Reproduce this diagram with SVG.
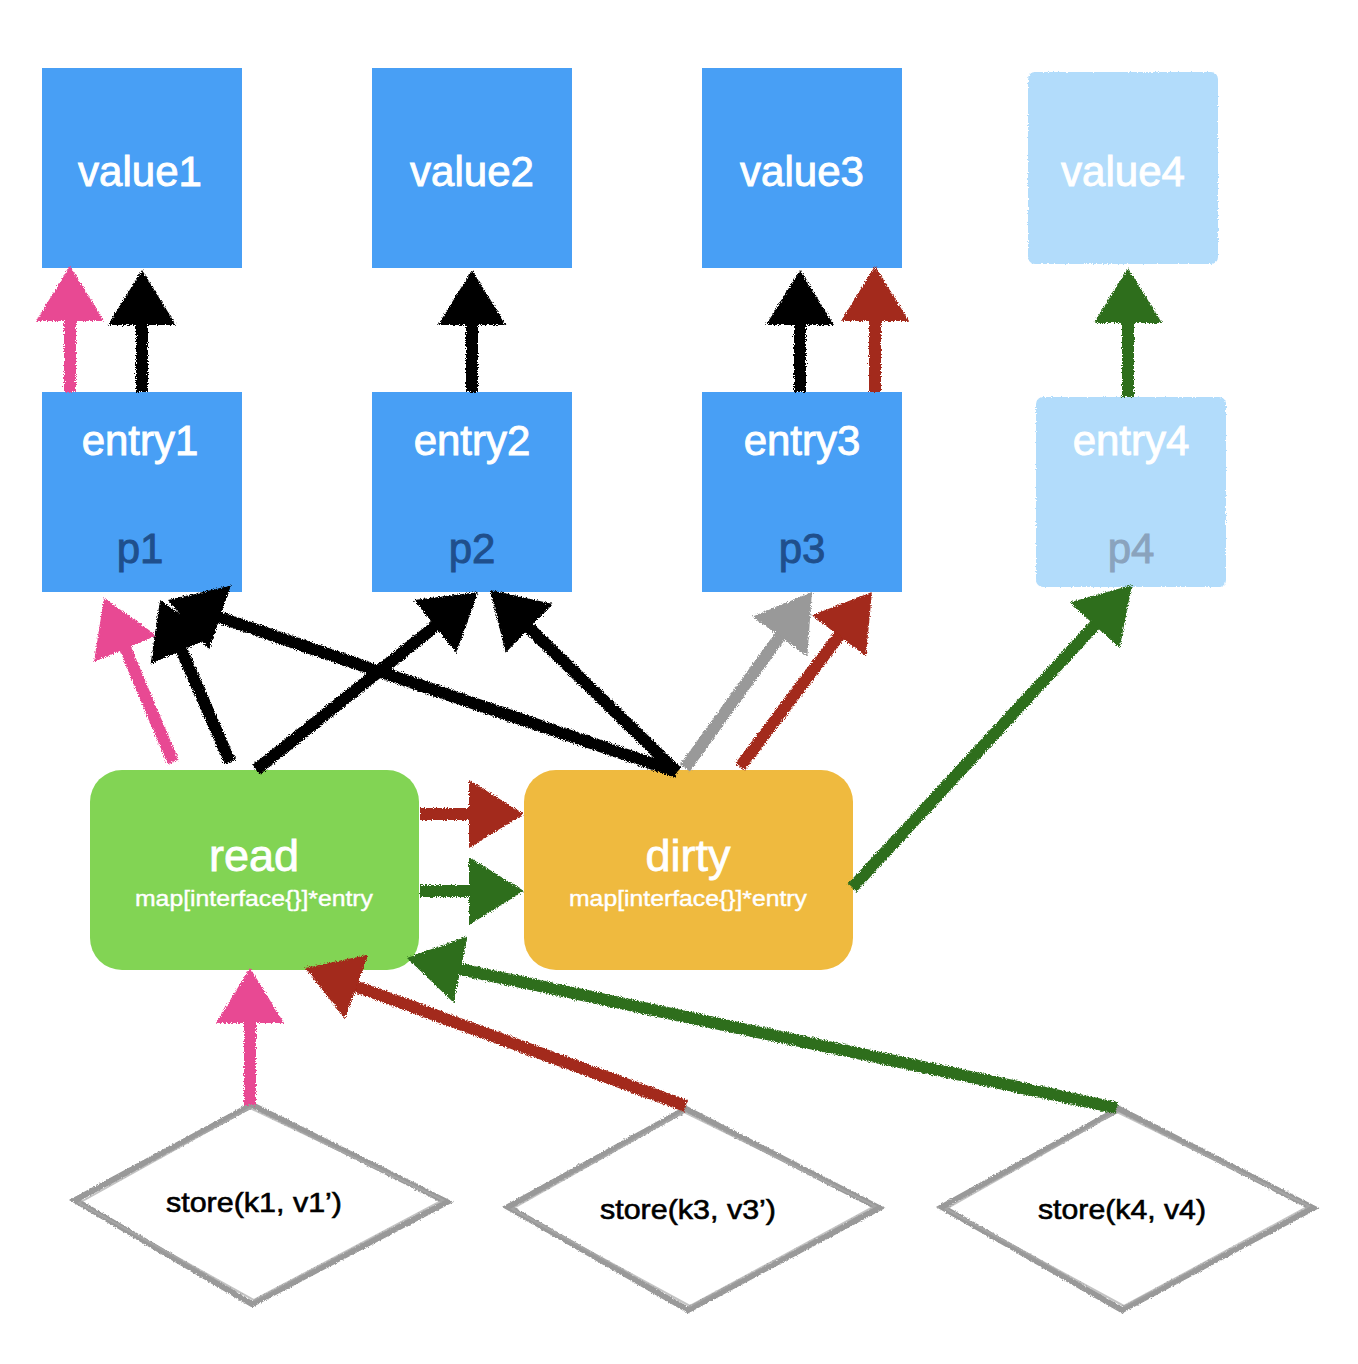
<svg xmlns="http://www.w3.org/2000/svg" width="1358" height="1364" viewBox="0 0 1358 1364">
<style>
.box{fill:#489ff5}
.pale{fill:#b2dcfb}
.lbl{font-family:"Liberation Sans",Arial,sans-serif;font-size:42px;fill:#fff;stroke:#fff;stroke-width:0.9;text-anchor:middle}
.ptr{font-family:"Liberation Sans",Arial,sans-serif;font-size:42px;fill:#1f4f8c;stroke:#1f4f8c;stroke-width:0.9;text-anchor:middle}
.big{font-family:"Liberation Sans",Arial,sans-serif;font-size:45px;fill:#fff;stroke:#fff;stroke-width:0.8;text-anchor:middle}
.sub{font-family:"Liberation Sans",Arial,sans-serif;font-size:22px;fill:#fff;stroke:#fff;stroke-width:0.4;text-anchor:middle}
.st{font-family:"Liberation Sans",Arial,sans-serif;font-size:28px;fill:#000;stroke:#000;stroke-width:0.6;text-anchor:middle}
.dia{fill:#fff;stroke:#999;stroke-width:6;stroke-linejoin:miter}
.dia2{fill:none;stroke:#aaa;stroke-width:2;opacity:.7}
.c{fill:none;stroke-width:12;stroke-linecap:butt}
.pk{stroke:#e84a93;marker-end:url(#mpk)}
.bk{stroke:#000;marker-end:url(#mbk)}
.rd{stroke:#a3291a;marker-end:url(#mrd)}
.gn{stroke:#2f6e1e;marker-end:url(#mgn)}
.gy{stroke:#999;marker-end:url(#mgy)}
</style>
<defs>
<filter id="crayon" filterUnits="userSpaceOnUse" x="0" y="0" width="1358" height="1364">
<feTurbulence type="fractalNoise" baseFrequency="0.9" numOctaves="2" seed="4" result="n"/>
<feDisplacementMap in="SourceGraphic" in2="n" scale="5" xChannelSelector="R" yChannelSelector="G"/>
</filter>
<filter id="rough" x="-5%" y="-5%" width="110%" height="110%">
<feTurbulence type="fractalNoise" baseFrequency="0.6" numOctaves="2" seed="2" result="n"/>
<feDisplacementMap in="SourceGraphic" in2="n" scale="3" xChannelSelector="R" yChannelSelector="G"/>
</filter>
<marker id="mpk" viewBox="0 0 55 68" refX="25" refY="34" markerWidth="55" markerHeight="68" markerUnits="userSpaceOnUse" orient="auto"><path d="M0,0 L55,34 L0,68 Z" fill="#e84a93"/></marker>
<marker id="mbk" viewBox="0 0 55 68" refX="25" refY="34" markerWidth="55" markerHeight="68" markerUnits="userSpaceOnUse" orient="auto"><path d="M0,0 L55,34 L0,68 Z" fill="#000"/></marker>
<marker id="mrd" viewBox="0 0 55 68" refX="25" refY="34" markerWidth="55" markerHeight="68" markerUnits="userSpaceOnUse" orient="auto"><path d="M0,0 L55,34 L0,68 Z" fill="#a3291a"/></marker>
<marker id="mgn" viewBox="0 0 55 68" refX="25" refY="34" markerWidth="55" markerHeight="68" markerUnits="userSpaceOnUse" orient="auto"><path d="M0,0 L55,34 L0,68 Z" fill="#2f6e1e"/></marker>
<marker id="mgy" viewBox="0 0 55 68" refX="25" refY="34" markerWidth="55" markerHeight="68" markerUnits="userSpaceOnUse" orient="auto"><path d="M0,0 L55,34 L0,68 Z" fill="#999"/></marker>
</defs>
<rect width="1358" height="1364" fill="#fff"/>

<g id="value1"><rect class="box" x="42" y="68" width="200" height="200"/><text class="lbl" x="140" y="186">value1</text></g>
<g id="value2"><rect class="box" x="372" y="68" width="200" height="200"/><text class="lbl" x="472" y="186">value2</text></g>
<g id="value3"><rect class="box" x="702" y="68" width="200" height="200"/><text class="lbl" x="802" y="186">value3</text></g>
<g id="value4"><rect class="pale" x="1028" y="72" width="190" height="192" rx="7" filter="url(#rough)"/><text class="lbl" x="1123" y="186">value4</text></g>

<g id="entry1"><rect class="box" x="42" y="392" width="200" height="200"/><text class="lbl" x="140" y="455">entry1</text><text class="ptr" x="140" y="563">p1</text></g>
<g id="entry2"><rect class="box" x="372" y="392" width="200" height="200"/><text class="lbl" x="472" y="455">entry2</text><text class="ptr" x="472" y="563">p2</text></g>
<g id="entry3"><rect class="box" x="702" y="392" width="200" height="200"/><text class="lbl" x="802" y="455">entry3</text><text class="ptr" x="802" y="563">p3</text></g>
<g id="entry4"><rect class="pale" x="1036" y="397" width="190" height="190" rx="7" filter="url(#rough)"/><text class="lbl" x="1131" y="455">entry4</text><text class="ptr" x="1131" y="563" style="fill:#8aa3bd;stroke:#8aa3bd">p4</text></g>

<g id="read"><rect x="90" y="770" width="329" height="200" rx="32" fill="#82d454"/><text class="big" x="254" y="871">read</text><text class="sub" x="254" y="906" textLength="238" lengthAdjust="spacingAndGlyphs">map[interface{}]*entry</text></g>
<g id="dirty"><rect x="524" y="770" width="329" height="200" rx="32" fill="#efba3f"/><text class="big" x="688" y="871">dirty</text><text class="sub" x="688" y="906" textLength="238" lengthAdjust="spacingAndGlyphs">map[interface{}]*entry</text></g>

<g id="store1"><polygon class="dia" points="252,1105 447,1202 252,1304 75,1200" filter="url(#rough)"/><polygon class="dia2" points="250,1108 443,1200 254,1300 79,1203"/><text class="st" x="254" y="1212" textLength="176" lengthAdjust="spacingAndGlyphs">store(k1, v1’)</text></g>
<g id="store2"><polygon class="dia" points="686,1109 879,1208 688,1310 508,1207" filter="url(#rough)"/><polygon class="dia2" points="684,1112 875,1206 690,1306 512,1209"/><text class="st" x="688" y="1219" textLength="176" lengthAdjust="spacingAndGlyphs">store(k3, v3’)</text></g>
<g id="store3"><polygon class="dia" points="1119,1109 1313,1208 1122,1310 942,1207" filter="url(#rough)"/><polygon class="dia2" points="1117,1112 1309,1206 1124,1306 946,1209"/><text class="st" x="1122" y="1219" textLength="168" lengthAdjust="spacingAndGlyphs">store(k4, v4)</text></g>

<g id="connectors" filter="url(#crayon)">
<line class="c pk" x1="70" y1="392" x2="70" y2="296"/>
<line class="c bk" x1="142" y1="392" x2="142" y2="300"/>
<line class="c bk" x1="472" y1="392" x2="472" y2="300"/>
<line class="c bk" x1="800" y1="392" x2="800" y2="300"/>
<line class="c rd" x1="875" y1="392" x2="875" y2="296"/>
<line class="c gn" x1="1128" y1="397" x2="1128" y2="298"/>
<line class="c pk" x1="173" y1="762" x2="115.6" y2="625.7"/>
<line class="c bk" x1="230" y1="762" x2="171.9" y2="627.5"/>
<line class="c bk" x1="677" y1="772" x2="196.4" y2="609.6"/>
<line class="c bk" x1="256" y1="770" x2="454.6" y2="610.8"/>
<line class="c bk" x1="677" y1="772" x2="511.5" y2="610.9"/>
<line class="c gy" x1="685" y1="768" x2="794.4" y2="616.3"/>
<line class="c rd" x1="740" y1="767" x2="853.9" y2="615.9"/>
<line class="c gn" x1="852" y1="888" x2="1111.6" y2="607"/>
<line class="c rd" x1="420" y1="814" x2="494" y2="814"/>
<line class="c gn" x1="420" y1="891" x2="494" y2="891"/>
<line class="c pk" x1="250" y1="1105" x2="250" y2="998"/>
<line class="c rd" x1="686" y1="1106" x2="333.2" y2="978.2"/>
<line class="c gn" x1="1117" y1="1108" x2="436.3" y2="964.2"/>
</g>
</svg>
